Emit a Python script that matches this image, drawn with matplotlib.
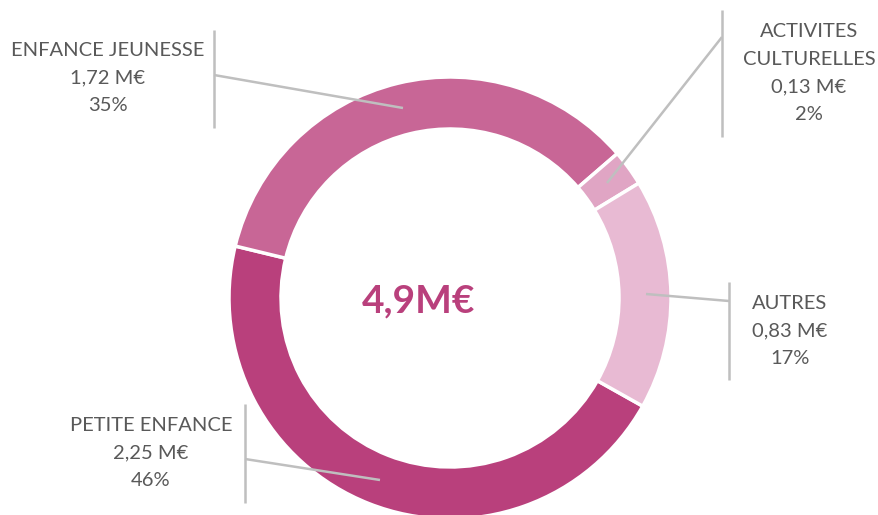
import matplotlib
matplotlib.use("Agg")
import matplotlib.pyplot as plt

# data
categories = ["PETITE ENFANCE", "ENFANCE JEUNESSE", "ACTIVITES\nCULTURELLES", "AUTRES"]
values = [2.25, 1.72, 0.13, 0.83]          # M€
percents = [46, 35, 2, 17]
colors = ["#B9407C", "#C86696", "#E0A5C4", "#E8BAD3"]

W, H = 879, 515
fig = plt.figure(figsize=(W / 100, H / 100), dpi=100)
ax = fig.add_axes([0, 0, 1, 1])


def iy(y):
    # image pixel row -> axes y
    return H - y


cx, cy, r_out, ring = 450, iy(298), 221, 52
ax.pie(values, colors=colors, startangle=-29.3, counterclock=False,
       radius=r_out, center=(cx, cy), frame=True,
       wedgeprops=dict(width=ring, edgecolor="white", linewidth=2.5))
ax.set_xlim(0, W)
ax.set_ylim(0, H)
ax.set_aspect("equal")
ax.axis("off")

total = sum(values)
ax.text(419, iy(301), f"{total:.1f}".replace(".", ",") + "M€", ha="center", va="center",
        fontsize=28, fontweight="bold", color="#B9407C", family="Lato")

line_kw = dict(color="#BFBFBF", lw=1.8, solid_capstyle="butt")
# leader lines: vertical bar + connector, in image pixels
leaders = [
    ((245, 404, 503), [(245, 459), (380, 480)]),
    ((214, 30, 128), [(214, 75), (403, 108)]),
    ((722, 10, 137), [(722, 37), (607, 183)]),
    ((729, 282, 380), [(729, 301), (646, 294)]),
]
for (vx, y0, y1), seg in leaders:
    ax.plot([vx, vx], [iy(y0), iy(y1)], **line_kw)
    ax.plot([p[0] for p in seg], [iy(p[1]) for p in seg], **line_kw)

label_pos = [(151, 453), (108, 78), (809, 73), (790, 331)]
for name, v, pc, (lx, ly) in zip(categories, values, percents, label_pos):
    txt = f"{name}\n{v:.2f}".replace(".", ",") + f" M€\n{pc}%"
    ax.text(lx, iy(ly), txt, ha="center", va="center", fontsize=14.5,
            color="#595959", family="Lato", linespacing=1.75)

fig.savefig("out.png", dpi=100)
